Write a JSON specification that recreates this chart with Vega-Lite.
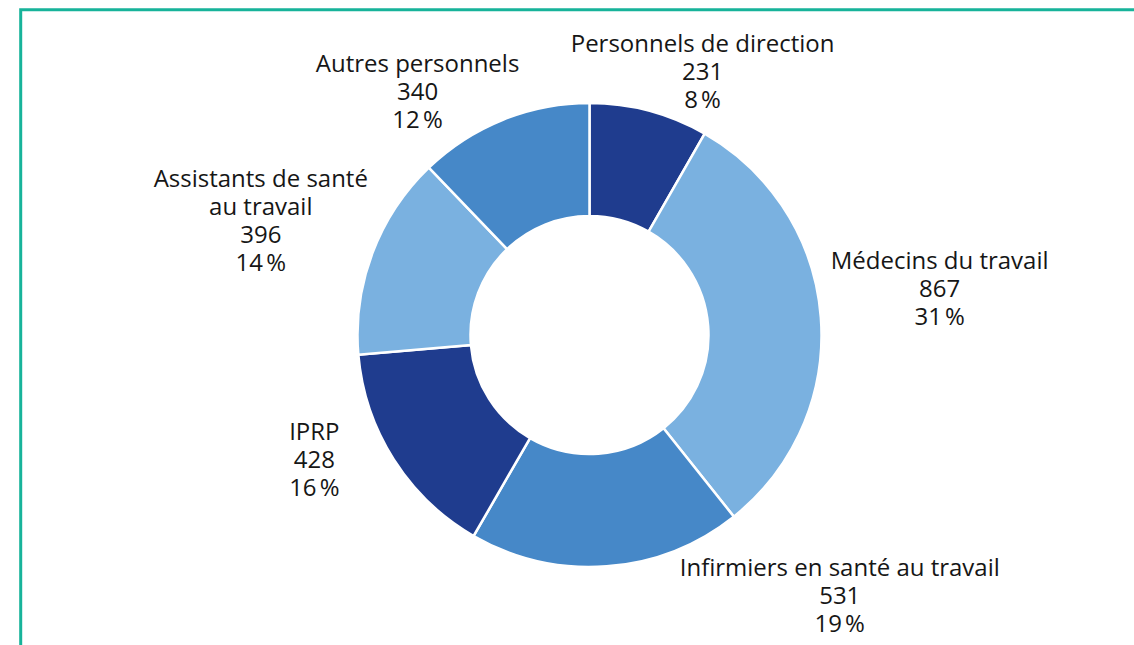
{
  "$schema": "https://vega.github.io/schema/vega-lite/v6.json",
  "autosize": "none",
  "width": 1137.6,
  "height": 650.6,
  "padding": {"left": 20.7, "top": 9.7, "right": 0, "bottom": 0},
  "background": "white",
  "view": {"stroke": "#17b39a", "strokeWidth": 3, "fill": "white"},
  "config": {"view": {"stroke": "#17b39a", "strokeWidth": 3}},
  "data": {
    "values": [
      {"rang": 1, "categorie": "Personnels de direction", "libelle": "Personnels de direction", "effectif": 231, "part": "8\u202f%"},
      {"rang": 2, "categorie": "Médecins du travail", "libelle": "Médecins du travail", "effectif": 867, "part": "31\u202f%"},
      {"rang": 3, "categorie": "Infirmiers en santé au travail", "libelle": "Infirmiers en santé au travail", "effectif": 531, "part": "19\u202f%"},
      {"rang": 4, "categorie": "IPRP", "libelle": "IPRP", "effectif": 428, "part": "16\u202f%"},
      {"rang": 5, "categorie": "Assistants de santé au travail", "libelle": "Assistants de santé\nau travail", "effectif": 396, "part": "14\u202f%"},
      {"rang": 6, "categorie": "Autres personnels", "libelle": "Autres personnels", "effectif": 340, "part": "12\u202f%"}
    ]
  },
  "transform": [
    {"calculate": "datum.libelle + '\\n' + format(datum.effectif, 'd') + '\\n' + datum.part", "as": "etiquette"}
  ],
  "encoding": {
    "theta": {"field": "effectif", "type": "quantitative", "stack": true},
    "order": {"field": "rang", "type": "quantitative"},
    "color": {
      "field": "categorie",
      "type": "nominal",
      "scale": {
        "domain": ["Personnels de direction", "Médecins du travail", "Infirmiers en santé au travail", "IPRP", "Assistants de santé au travail", "Autres personnels"],
        "range": ["#1f3c8e", "#7ab1e0", "#4688c8", "#1f3c8e", "#7ab1e0", "#4688c8"]
      },
      "legend": null
    }
  },
  "layer": [
    {
      "mark": {"type": "arc", "outerRadius": 232, "innerRadius": 119, "stroke": "white", "strokeWidth": 2.5}
    },
    {
      "mark": {
        "type": "text",
        "radius": 300,
        "font": "Open Sans",
        "fontSize": 24,
        "lineHeight": 28,
        "lineBreak": "\n",
        "align": "center",
        "baseline": "middle",
        "dx": {"expr": "[36, 51, 228, -22, -48, -60][datum.rang - 1]"},
        "dy": {"expr": "[0, -50, -65, -63, -49, 8][datum.rang - 1]"}
      },
      "encoding": {
        "text": {"field": "etiquette", "type": "nominal"},
        "color": {"value": "#161616"}
      }
    }
  ]
}
